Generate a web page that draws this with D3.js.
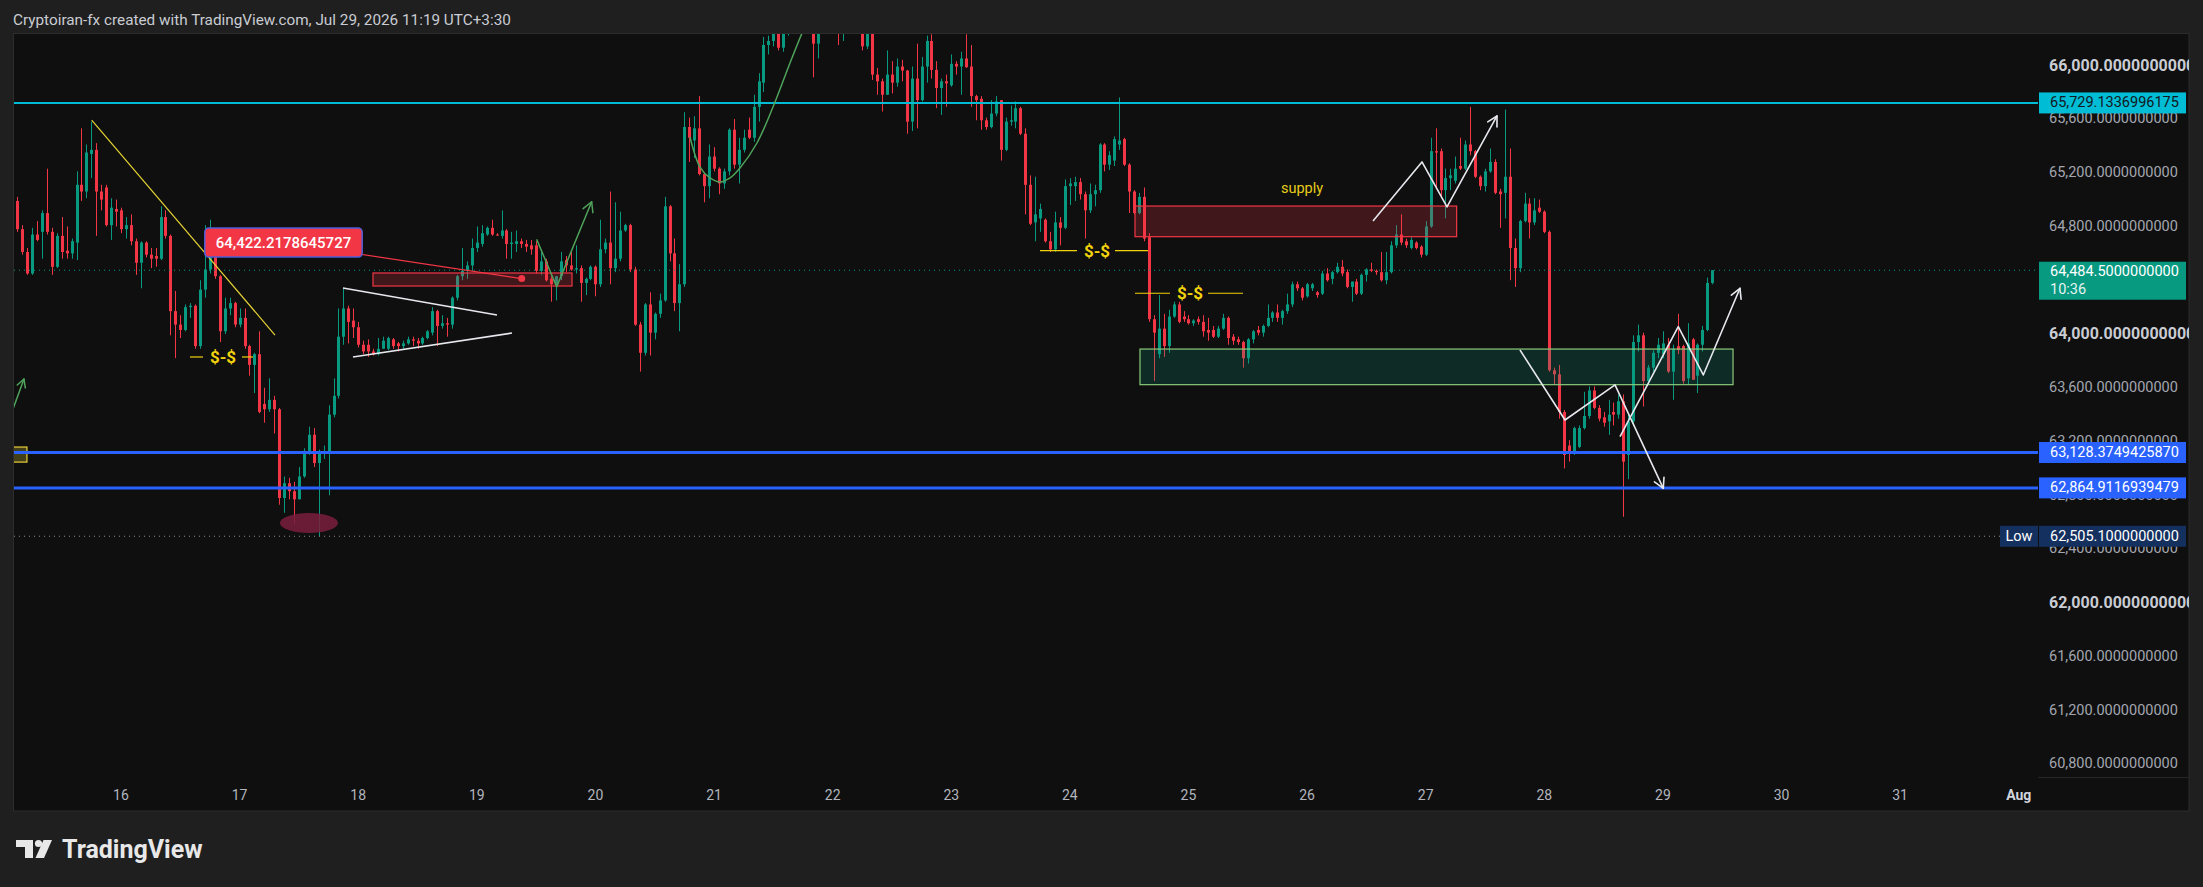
<!DOCTYPE html>
<html><head><meta charset="utf-8">
<script src="https://cdn.jsdelivr.net/npm/d3@7"></script>
<style>
html,body{margin:0;padding:0;background:#1f1f1f;overflow:hidden;}
svg{display:block;font-family:Roboto,"Noto Sans",sans-serif;}
</style></head><body>
<svg id="chart" width="2203" height="887"></svg>
<script>
// ---------- DATA: hourly candles [open, high, low, close] ----------
const jul15 = [ // 03:00 .. 23:00
[65000,65030,64770,64790],[64790,64820,64600,64620],[64620,64650,64450,64460],[64460,64800,64450,64750],
[64750,64850,64700,64710],[64770,64930,64570,64910],[64910,65240,64750,64770],[64770,64800,64450,64510],
[64510,64760,64500,64740],[64740,64880,64570,64620],[64630,64810,64570,64610],[64610,64720,64570,64700],
[64690,65220,64560,65120],[65120,65540,65000,65070],[65070,65420,65020,65360],[65350,65590,65170,65380],
[65380,65430,64740,65070],[65070,65120,64930,65010],[65100,65120,64810,64820],[64820,65020,64710,64950],
[64940,65010,64810,64920]];
const jul16 = [
[64930,64950,64760,64790],[64790,64880,64720,64820],[64820,64900,64670,64700],[64700,64720,64450,64540],
[64540,64700,64350,64690],[64690,64700,64580,64600],[64600,64650,64500,64570],[64590,64650,64510,64570],
[64570,64960,64560,64880],[64880,64930,64720,64740],[64740,64750,64000,64180],[64180,64330,63830,64080],
[64080,64150,63980,64040],[64040,64230,64030,64210],[64210,64240,64130,64220],[64220,64230,63900,63920],
[63920,64410,63900,64340],[64340,64820,64280,64490],[64490,64860,64460,64670],[64670,64680,64420,64440],
[64440,64450,63950,64030],[64030,64280,64010,64200],[64200,64280,64150,64240],[64240,64250,64060,64080]];
const jul17 = [
[64080,64200,64060,64130],[64130,64200,63900,63920],[63920,63930,63700,63780],[63780,63870,63570,63860],
[63860,64030,63420,63430],[63490,63610,63350,63450],[63450,63680,63430,63520],[63520,63550,63270,63450],
[63450,63460,62740,62790],[62790,62950,62680,62900],[62900,62940,62780,62840],[62840,62910,62600,62780],
[62780,63020,62780,62950],[62950,63160,62940,63140],[63140,63320,63110,63260],[63260,63310,63020,63050],
[63050,63150,62505.1,63120],[63120,63180,63080,63130],[63130,63480,62810,63410],[63410,63680,63390,63550],
[63550,64200,63530,63990],[63990,64350,63930,64200],[64200,64220,63940,64100],[64110,64200,63980,64060]];
const jul18 = [
[64060,64100,63910,63930],[63930,63960,63860,63880],[63930,63970,63840,63880],[63880,63900,63850,63860],
[63860,63980,63850,63900],[63900,63990,63900,63960],[63900,63990,63890,63980],[63970,63980,63900,63920],
[63940,63950,63880,63920],[63920,63960,63900,63940],[63940,63990,63930,63970],[63970,63990,63920,63960],
[63960,63980,63900,63940],[63940,63990,63930,63980],[63980,64040,63970,64030],[64020,64210,64000,64180],
[64180,64190,63920,64070],[64070,64150,64050,64090],[64090,64130,63990,64080],[64080,64290,64050,64280],
[64280,64450,64260,64440],[64440,64650,64410,64480],[64480,64550,64420,64520],[64520,64720,64480,64650]];
const jul19 = [
[64650,64810,64620,64690],[64680,64820,64660,64760],[64750,64810,64740,64800],[64800,64860,64740,64750],
[64750,64760,64740,64745],[64740,64930,64720,64780],[64780,64790,64570,64680],[64680,64770,64570,64690],
[64680,64780,64620,64700],[64700,64720,64650,64680],[64680,64710,64620,64660],[64670,64710,64600,64640],
[64670,64700,64460,64480],[64480,64620,64450,64550],[64550,64570,64400,64410],[64420,64440,64250,64380],
[64380,64440,64260,64440],[64440,64620,64410,64550],[64560,64590,64470,64520],[64520,64620,64480,64490],
[64490,64670,64460,64500],[64500,64520,64250,64390],[64390,64430,64300,64420],[64420,64520,64410,64510]];
const jul20 = [
[64510,64520,64290,64380],[64380,64860,64360,64640],[64640,64720,64610,64690],[64690,65070,64380,64500],
[64500,64990,64470,64570],[64570,64920,64550,64780],[64780,64830,64770,64820],[64820,64830,64470,64490],
[64490,64510,64070,64080],[64080,64100,63730,63870],[63870,64240,63850,64230],[64230,64320,63850,64020],
[64020,64170,63970,64160],[64160,64310,64130,64260],[64260,65030,64250,64960],[64960,64970,64550,64610],
[64610,64720,64180,64240],[64240,64530,64030,64380],[64380,65660,64360,65550],[65550,65620,65290,65470],
[65450,65630,65320,65540],[65540,65780,65190,65200],[65200,65210,64990,65110],[65110,65420,65020,65330]];
const jul21 = [
[65330,65400,65220,65240],[65240,65250,65050,65130],[65130,65240,65090,65220],[65220,65540,65190,65530],
[65530,65610,65240,65270],[65270,65470,65130,65380],[65380,65530,65360,65470],[65530,65620,65460,65470],
[65470,65790,65440,65700],[65700,65950,65590,65890],[65880,66220,65810,66160],[66160,66230,66090,66190],
[66190,66450,66150,66380],[66380,66420,66120,66140],[66140,66400,66110,66350],[66350,66500,66230,66420],
[66420,66600,66300,66520],[66520,66650,66400,66450],[66450,66560,66300,66350],[66350,66480,66260,66300],
[66300,66350,65920,66170],[66170,66400,66060,66330],[66330,66520,66260,66450],[66450,66600,66380,66500]];
const jul22 = [
[66500,66560,66300,66380],[66380,66420,66160,66300],[66300,66450,66190,66400],[66400,66500,66320,66450],
[66450,66520,66330,66360],[66360,66400,66250,66300],[66300,66350,66120,66150],[66150,66330,66130,66300],
[66300,66320,65900,65940],[65940,65990,65790,65890],[65890,65910,65665,65790],[65790,66120,65790,65940],
[65940,66040,65800,65880],[65880,66060,65850,66000],[66000,66050,65890,65970],[65970,65975,65500,65590],
[65590,66000,65520,65910],[65910,66170,65540,65750],[65750,66070,65740,66000],[66000,66230,65880,66190],
[66190,66240,65910,65975],[65975,66040,65690,65840],[65840,65910,65640,65890],[65890,65940,65700,65875]];
const jul23 = [
[65860,66090,65850,66020],[66020,66040,65940,66000],[66000,66110,65790,66060],[66060,66240,65990,65995],
[66000,66160,65700,65780],[65780,65790,65600,65750],[65760,65780,65530,65600],[65600,65620,65530,65550],
[65550,65750,65540,65650],[65650,65780,65630,65740],[65750,65750,65300,65380],[65380,65620,65370,65590],
[65590,65710,65560,65600],[65590,65740,65540,65690],[65690,65700,65490,65500],[65500,65540,64900,65120],
[65120,65190,64820,64830],[64840,65180,64700,64900],[64870,64980,64770,64940],[64860,64870,64690,64700],
[64700,64770,64620,64640],[64640,64920,64620,64840],[64840,64880,64670,64800],[64800,65160,64790,65110]];
const jul24 = [
[65110,65170,64970,65130],[65110,65180,65000,65140],[65140,65170,65010,65050],[65050,65070,64720,64930],
[64930,65130,64910,65050],[65050,65120,64960,65080],[65080,65430,65060,65420],[65420,65430,65220,65270],
[65270,65370,65230,65340],[65300,65480,65260,65460],[65420,65770,65380,65450],[65460,65470,65260,65270],
[65270,65280,64910,65070],[65070,65080,64900,64910],[64910,65060,64900,65030],[65030,65100,64700,64720],
[64730,64760,64100,64120],[64120,64150,63660,64020],[63860,64300,63830,64050],[64050,64160,63840,63920],
[63920,64190,63870,64140],[64140,64250,64130,64230],[64230,64250,64090,64100],[64140,64180,64100,64120]];
const jul25 = [
[64120,64150,64080,64090],[64090,64120,64070,64110],[64120,64140,64080,64100],[64100,64150,63990,64030],
[64040,64130,63960,64020],[64040,64070,63980,63990],[63990,64070,63980,64050],[64050,64160,64040,64130],
[64130,64140,63930,63980],[63990,64010,63930,63960],[63970,63990,63930,63950],[63950,63960,63760,63830],
[63830,63980,63790,63970],[63970,64040,63940,64030],[64040,64070,64000,64020],[64020,64080,63990,64070],
[64070,64230,64060,64130],[64130,64180,64100,64170],[64170,64230,64100,64130],[64130,64190,64080,64180],
[64180,64310,64160,64230],[64230,64400,64210,64380],[64380,64400,64330,64350],[64350,64360,64260,64280]];
const jul26 = [
[64290,64390,64280,64380],[64350,64390,64330,64380],[64320,64330,64280,64300],[64310,64480,64300,64460],
[64460,64500,64400,64410],[64420,64480,64380,64470],[64470,64540,64460,64510],[64510,64560,64440,64460],
[64470,64490,64350,64360],[64360,64400,64250,64400],[64400,64420,64300,64310],[64310,64460,64300,64450],
[64450,64500,64400,64490],[64490,64540,64470,64480],[64480,64490,64450,64470],[64470,64620,64400,64410],
[64410,64620,64380,64470],[64470,64700,64460,64670],[64670,64820,64650,64750],[64750,64900,64670,64690],
[64700,64720,64650,64670],[64650,64730,64640,64710],[64690,64700,64640,64650],[64660,64670,64580,64600]];
const jul27 = [
[64600,64850,64590,64810],[64810,65470,64800,65370],[65370,65540,65090,65360],[65370,65390,65020,65080],
[65080,65240,64870,65170],[65170,65240,65080,65190],[65150,65330,65130,65240],[65260,65470,65230,65240],
[65240,65450,65230,65420],[65420,65700,65340,65370],[65370,65380,65170,65180],[65180,65190,65080,65110],
[65110,65240,65070,65220],[65220,65390,65210,65290],[65290,65310,65050,65060],[65070,65090,64800,65050],
[65060,65680,64870,65180],[65180,65390,64410,64650],[64650,64720,64360,64500],[64500,64860,64470,64850],
[64850,65060,64840,64980],[64980,65020,64720,64840],[64840,65020,64820,64930],[64950,65010,64910,64920]];
const jul28 = [
[64920,64930,64760,64770],[64770,64780,63730,63740],[63740,63760,63630,63710],[63710,63780,63380,63430],
[63430,63445,63010,63110],[63180,63220,63060,63120],[63120,63320,63110,63310],[63170,63330,63160,63310],
[63310,63580,63300,63400],[63400,63620,63380,63590],[63590,63620,63450,63460],[63460,63480,63360,63380],
[63390,63430,63320,63350],[63360,63520,63260,63410],[63430,63500,63330,63410],[63410,63560,63380,63510],
[63510,63560,62650,63060],[63110,63410,62930,63360],[63360,64000,63330,63950],[63950,64080,63880,64000],
[64000,64020,63470,63660],[63660,63780,63630,63760],[63760,63890,63730,63870],[63870,63980,63830,63930]];
const jul29 = [ // 00:00 .. 10:00
[63860,64030,63830,63940],[63930,63980,63720,63730],[63730,63930,63520,63900],[63920,64160,63860,63890],
[63920,63930,63640,63660],[63680,64090,63630,63940],[63970,63980,63670,63670],[63700,63940,63570,63930],
[63930,64070,63880,64040],[64040,64430,64030,64390],[64390,64485,64380,64484.5]];

// first-hour offsets (hours from Jul 16 00:00) of each day's first candle
const dayArrays = [jul15,jul16,jul17,jul18,jul19,jul20,jul21,jul22,jul23,jul24,jul25,jul26,jul27,jul28,jul29];
const dayFirstHour = [-21,0,24,48,72,96,120,144,168,192,216,240,264,288,312];

// time axis labels (one per day, at 00:00)
const timeLabels = ["16","17","18","19","20","21","22","23","24","25","26","27","28","29","30","31","Aug"];
const timeLabelHours = [0,24,48,72,96,120,144,168,192,216,240,264,288,312,336,360,384];

// price axis ticks (64,400 is fully hidden behind the last-price label in the reference)
const priceTicks = [66000,65600,65200,64800,64000,63600,63200,62800,62400,62000,61600,61200,60800];
const boldTicks = [66000,64000,62000];

// key levels
const levelPrices = [65729.1336996175, 63128.3749425870, 62864.9116939479];
const levelLabels = ["65,729.1336996175","63,128.3749425870","62,864.9116939479"];
const levelColors = ["#00bcd4","#2962ff","#2962ff"];
const levelTextColors = ["#131722","#ffffff","#ffffff"];
const lastPrice = 64484.5, lastLabel = "64,484.5000000000", countdown = "10:36";
const lowPrice = 62505.1, lowLabel = "62,505.1000000000";

// drawings, anchored as [hour, price]
const trendLine = [[-5.93,65602],[31.16,64002]];
const liqMarks = [ // [lineA start, lineA end, text, lineB start, lineB end, price]
  [13.96,16.59,20.64,24.48,26.71,63839],
  [185.96,193.44,197.49,201.13,207.81,64630],
  [205.18,212.26,216.31,219.95,227.03,64313]];
const noteAnchor = [81.08,64422.2178645727], noteBox = [32.88,64690], noteText = "64,422.2178645727";
const redZone = [[50.99,64464],[91.26,64367]];
const triUpper = [[44.92,64352],[76.08,64151]];
const triLower = [[46.94,63839],[79.12,64017]];
const greenArrowA = [[84.11,64714],[88.16,64362],[95.24,64994]];
const greenArrowB = [[-21.85,63452],[-19.63,63675]];
const yellowBox = [[-23,63169],[-19.03,63057]];
const lowEllipse = [38.04,62604,5.87,74];
const arcPts = [[115.13,65476],[117.16,65252],[119.18,65171],[121.21,65141],[123.23,65171],[125.25,65245],[128.69,65431],[131.93,65699],[135.37,66026],[137.8,66249],[139.8,66420]];
const supplyZone = [[205.18,64962],[270.26,64734]];
const supplyText = [238.97,65089,"supply"];
const demandZone = [[206.19,63898],[326.19,63633]];
const zigA = [[253.34,64851],[263.25,65290],[268.31,64955],[278.43,65632]];
const zigB = [[283.08,63891],[292.19,63370],[302.31,63631],[312.08,62862]];
const zigC = [[303.32,63246],[315.11,64064],[320.17,63705],[327.6,64350]];

// ---------- BUILD ----------
const candles = [];
dayArrays.forEach((arr,i)=>arr.forEach((c,j)=>candles.push({t:dayFirstHour[i]+j,o:c[0],h:c[1],l:c[2],c:c[3]})));

const svg = d3.select("#chart");
const P = {x0:14,x1:2038,y0:34,y1:777};
const x = d3.scaleLinear().domain([-21.65,387.9]).range([P.x0,P.x1]);
const y = d3.scaleLinear().domain([60714,66242]).range([P.y1,P.y0]);
const UP="#089981", DN="#f23645";
const fmt = d3.format(",.10f");

// backgrounds
svg.append("rect").attr("width",2203).attr("height",887).attr("fill","#1f1f1f");
svg.append("rect").attr("x",13.5).attr("y",33.5).attr("width",2189-13.5).attr("height",811-33.5)
  .attr("fill","#0f0f0f").attr("stroke","#2c2c2c").attr("stroke-width",1);
svg.append("line").attr("x1",P.x1).attr("x2",2189).attr("y1",777.5).attr("y2",777.5).attr("stroke","#262626");

// header
svg.append("text").attr("x",13).attr("y",25).attr("fill","#c9ccd3").attr("font-size",15.3)
  .text("Cryptoiran-fx created with TradingView.com, Jul 29, 2026 11:19 UTC+3:30");

const defs = svg.append("defs");
defs.append("clipPath").attr("id","plotclip").append("rect")
  .attr("x",P.x0).attr("y",P.y0).attr("width",P.x1-P.x0).attr("height",P.y1-P.y0);
defs.append("clipPath").attr("id","axisclip").append("rect")
  .attr("x",P.x1).attr("y",P.y0).attr("width",2189-P.x1).attr("height",P.y1-P.y0);

const g = svg.append("g").attr("clip-path","url(#plotclip)");

// candles
const cg = g.append("g");
cg.selectAll("line.w").data(candles).join("line")
  .attr("x1",d=>Math.round(x(d.t))+0.5).attr("x2",d=>Math.round(x(d.t))+0.5)
  .attr("y1",d=>y(d.h)).attr("y2",d=>y(d.l))
  .attr("stroke",d=>d.c>=d.o?UP:DN).attr("stroke-width",1);
cg.selectAll("rect.b").data(candles).join("rect")
  .attr("x",d=>Math.round(x(d.t))-1).attr("width",3)
  .attr("y",d=>y(Math.max(d.o,d.c))).attr("height",d=>Math.max(1,Math.abs(y(d.o)-y(d.c))))
  .attr("fill",d=>d.c>=d.o?UP:DN);

const X = p=>x(p[0]), Y = p=>y(p[1]);
function zone(z, fill, stroke){
  g.append("rect").attr("x",x(z[0][0])).attr("y",y(z[0][1]))
   .attr("width",x(z[1][0])-x(z[0][0])).attr("height",y(z[1][1])-y(z[0][1]))
   .attr("fill",fill).attr("stroke",stroke).attr("stroke-width",1.2);
}
function poly(pts, color, w){
  g.append("path").attr("d",d3.line().x(X).y(Y)(pts)).attr("fill","none")
   .attr("stroke",color).attr("stroke-width",w).attr("stroke-linejoin","round");
}
function arrowHead(pts, color, w, len){
  const a=pts[pts.length-2], b=pts[pts.length-1];
  const ax=X(a), ay=Y(a), bx=X(b), by=Y(b);
  const ang=Math.atan2(by-ay,bx-ax);
  [-0.5,0.5].forEach(s=>{
    const aa=ang+Math.PI+s;
    g.append("line").attr("x1",bx).attr("y1",by).attr("x2",bx+len*Math.cos(aa)).attr("y2",by+len*Math.sin(aa))
     .attr("stroke",color).attr("stroke-width",w).attr("stroke-linecap","round");
  });
}

// zones
zone(redZone,"rgba(242,54,69,0.22)","#f23645");
zone(supplyZone,"rgba(242,54,69,0.22)","#f23645");
zone(demandZone,"rgba(8,153,129,0.2)","#8bc97a");
zone(yellowBox,"rgba(255,235,59,0.22)","#e8d03a");

// ellipse
g.append("ellipse").attr("cx",x(lowEllipse[0])).attr("cy",y(lowEllipse[1]))
  .attr("rx",x(lowEllipse[0]+lowEllipse[2])-x(lowEllipse[0]))
  .attr("ry",y(lowEllipse[1]-lowEllipse[3])-y(lowEllipse[1]))
  .attr("fill","#7a1d3c").attr("opacity",0.85);

// key horizontal levels
levelPrices.forEach((p,i)=>{
  g.append("line").attr("x1",P.x0).attr("x2",P.x1).attr("y1",y(p)).attr("y2",y(p))
   .attr("stroke",levelColors[i]).attr("stroke-width",i===0?2:3);
});
// last price dotted
g.append("line").attr("x1",P.x0).attr("x2",P.x1).attr("y1",y(lastPrice)).attr("y2",y(lastPrice))
  .attr("stroke",UP).attr("stroke-width",1).attr("stroke-dasharray","1,4");
// low dotted
g.append("line").attr("x1",P.x0).attr("x2",2000).attr("y1",y(lowPrice)).attr("y2",y(lowPrice))
  .attr("stroke","#8a8d96").attr("stroke-width",1).attr("stroke-dasharray","1,4");

// trend line
poly(trendLine,"#e6d335",1.2);
// triangle
poly(triUpper,"#e6e8ee",1.6);
poly(triLower,"#e6e8ee",1.6);
// green arrows
poly(greenArrowA,"#4fa35a",1.5); arrowHead(greenArrowA,"#4fa35a",1.5,11);
poly(greenArrowB,"#4fa35a",1.5); arrowHead(greenArrowB,"#4fa35a",1.5,9);
// arc
g.append("path").attr("d",d3.line().x(X).y(Y).curve(d3.curveCatmullRom)(arcPts))
  .attr("fill","none").attr("stroke","#4fa35a").attr("stroke-width",1.5);
// white zigzags
[zigA,zigB,zigC].forEach(z=>{ poly(z,"#e6e8ee",1.6); arrowHead(z,"#e6e8ee",1.6,11); });

// liquidity marks $-$
const YEL="#f2d20c";
liqMarks.forEach(m=>{
  const yy=y(m[5]);
  g.append("line").attr("x1",x(m[0])).attr("x2",x(m[1])).attr("y1",yy).attr("y2",yy).attr("stroke",YEL).attr("stroke-width",1.2);
  g.append("line").attr("x1",x(m[3])).attr("x2",x(m[4])).attr("y1",yy).attr("y2",yy).attr("stroke",YEL).attr("stroke-width",1.2);
  g.append("text").attr("x",x(m[2])).attr("y",yy).attr("text-anchor","middle").attr("dominant-baseline","central")
   .attr("fill",YEL).attr("font-size",17).attr("font-weight",700).text("$-$");
});
// supply text
g.append("text").attr("x",x(supplyText[0])).attr("y",y(supplyText[1])).attr("text-anchor","middle")
  .attr("dominant-baseline","central").attr("fill","#e8cc1c").attr("font-size",14.5).text(supplyText[2]);

// price note
const ax=x(noteAnchor[0]), ay=y(noteAnchor[1]), bx=x(noteBox[0]), by=y(noteBox[1]);
g.append("line").attr("x1",bx).attr("y1",by).attr("x2",ax).attr("y2",ay).attr("stroke",DN).attr("stroke-width",1.2);
g.append("circle").attr("cx",ax).attr("cy",ay).attr("r",3.5).attr("fill",DN);
const nt = g.append("text").attr("x",bx).attr("y",by).attr("text-anchor","middle").attr("dominant-baseline","central")
  .attr("fill","#ffffff").attr("font-size",15).attr("font-weight",500).text(noteText);
const nw = nt.node().getComputedTextLength()+22;
g.insert("rect","text:last-child").attr("x",bx-nw/2).attr("y",by-14.5).attr("width",nw).attr("height",29)
  .attr("rx",4).attr("fill",DN).attr("stroke","#4e5fd8").attr("stroke-width",1.5);
nt.raise();

// ---------- PRICE AXIS ----------
const pa = svg.append("g").attr("clip-path","url(#axisclip)");
pa.selectAll("text.tick").data(priceTicks).join("text")
  .attr("x",2049).attr("y",d=>y(d)-1.5).attr("dominant-baseline","central")
  .attr("fill",d=>boldTicks.includes(d)?"#c9ccd3":"#a3a6af")
  .attr("font-size",d=>boldTicks.includes(d)?16:14.5)
  .attr("font-weight",d=>boldTicks.includes(d)?700:400)
  .text(d=>fmt(d));

function priceBox(p,label,fill,tcolor,h){
  const yy=y(p);
  pa.append("rect").attr("x",2039).attr("y",yy-h/2).attr("width",147).attr("height",h).attr("fill",fill);
  pa.append("text").attr("x",2050).attr("y",yy).attr("dominant-baseline","central")
    .attr("fill",tcolor).attr("font-size",14.5).text(label);
}
levelPrices.forEach((p,i)=>priceBox(p,levelLabels[i],levelColors[i],levelTextColors[i],21));
priceBox(lowPrice,lowLabel,"#14305f","#ffffff",21);
svg.append("rect").attr("x",2000).attr("y",y(lowPrice)-10.5).attr("width",38).attr("height",21).attr("fill","#14305f");
svg.append("text").attr("x",2019).attr("y",y(lowPrice)).attr("text-anchor","middle").attr("dominant-baseline","central")
  .attr("fill","#ffffff").attr("font-size",14.5).text("Low");
// last price box (two lines)
{
  const yy=y(lastPrice);
  pa.append("rect").attr("x",2039).attr("y",yy-8.5).attr("width",147).attr("height",38).attr("fill",UP);
  pa.append("text").attr("x",2050).attr("y",yy+1).attr("dominant-baseline","central").attr("fill","#ffffff").attr("font-size",14.5).text(lastLabel);
  pa.append("text").attr("x",2050).attr("y",yy+19).attr("dominant-baseline","central").attr("fill","#e6f4f1").attr("font-size",14.5).text(countdown);
}

// ---------- TIME AXIS ----------
svg.append("g").selectAll("text").data(timeLabels).join("text")
  .attr("x",(d,i)=>x(timeLabelHours[i])).attr("y",795).attr("text-anchor","middle").attr("dominant-baseline","central")
  .attr("fill",d=>d==="Aug"?"#d1d4dc":"#b2b5be").attr("font-size",14)
  .attr("font-weight",d=>d==="Aug"?700:400).text(d=>d);

// ---------- TradingView logo ----------
const lg = svg.append("g").attr("fill","#e8e8e8");
lg.append("path").attr("d","M16 840 H33 V858 H25 V847 H16 Z");
lg.append("circle").attr("cx",38.5).attr("cy",843.5).attr("r",3.6);
lg.append("path").attr("d","M43.5 840 H52 L44 858 H35.5 Z");
lg.append("text").attr("x",62).attr("y",857.5).attr("font-size",25).attr("font-weight",700)
  .attr("fill","#e8e8e8").text("TradingView");
</script>
</body></html>
